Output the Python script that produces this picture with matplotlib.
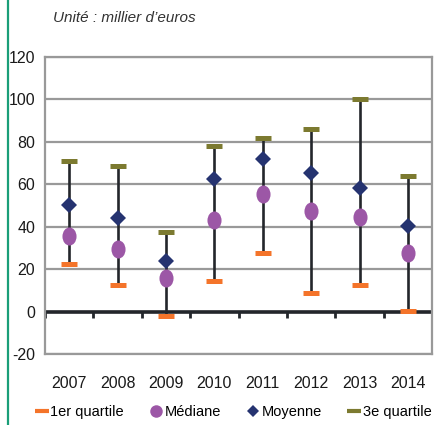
import matplotlib
matplotlib.use("Agg")
import matplotlib.pyplot as plt
import numpy as np
from matplotlib.lines import Line2D
from matplotlib.path import Path

plt.rcParams["font.family"] = ["Liberation Sans", "DejaVu Sans"]
plt.rcParams["axes.unicode_minus"] = False

years = ["2007", "2008", "2009", "2010", "2011", "2012", "2013", "2014"]
q1 = [22.5, 12.7, -2.2, 14.3, 27.7, 8.8, 12.4, 0.3]
median = [35.8, 29.6, 15.9, 43.0, 55.5, 47.2, 44.7, 27.7]
mean = [50.0, 44.0, 23.7, 62.3, 71.7, 65.2, 58.3, 40.4]
q3 = [71.2, 68.5, 37.7, 77.8, 81.6, 86.0, 100.0, 64.0]

COLORS = {
    "q1": "#f4742a",
    "median": "#9c57a6",
    "mean": "#253370",
    "q3": "#7c7a30",
    "whisker": "#23262b",
    "grid": "#999999",
    "text": "#1a1a1a",
    "border": "#1a9e78",
}

# taller-than-wide ellipse for the median marker
circle = Path.unit_circle()
ellipse = Path(circle.vertices * np.array([0.78, 1.0]), circle.codes)

fig = plt.figure(figsize=(4.37, 4.25), dpi=100)
fig.patch.set_facecolor("white")
ax = fig.add_axes([0.103, 0.167, 0.886, 0.699])

x = np.arange(len(years))
ax.set_xlim(-0.5, len(years) - 0.5)
ax.set_ylim(-20, 120)

ax.yaxis.grid(True, color=COLORS["grid"], linewidth=1.6, zorder=0)
ax.set_axisbelow(True)
ax.axhline(0, color=COLORS["whisker"], linewidth=2.6, zorder=2)
ax.vlines(np.arange(len(years) + 1) - 0.5, -2.8, 0, color=COLORS["whisker"],
          linewidth=2.0, zorder=2)

ax.vlines(x, q1, q3, color=COLORS["whisker"], linewidth=1.9, zorder=3)
ax.plot(x, q1, linestyle="none", marker="_", markersize=12,
        markeredgewidth=3.6, color=COLORS["q1"], zorder=4)
ax.plot(x, q3, linestyle="none", marker="_", markersize=12,
        markeredgewidth=3.6, color=COLORS["q3"], zorder=4)
ax.plot(x, median, linestyle="none", marker=ellipse, markersize=13,
        markeredgewidth=0, color=COLORS["median"], zorder=5)
ax.plot(x, mean, linestyle="none", marker="D", markersize=8,
        markeredgewidth=0, color=COLORS["mean"], zorder=6)

ax.set_xticks(x)
ax.set_xticklabels(years)
ax.set_yticks(np.arange(-20, 121, 20))
ax.tick_params(axis="x", length=0, pad=16, labelsize=11.5, colors=COLORS["text"])
ax.tick_params(axis="y", length=0, pad=7, labelsize=11.5, colors=COLORS["text"])
for s in ax.spines.values():
    s.set_color(COLORS["grid"])
    s.set_linewidth(1.6)

fig.text(0.122, 0.958, "Unité : millier d\u2019euros", style="italic",
         fontsize=11, color="#333333", va="center")

handles = [
    Line2D([], [], linestyle="none", marker="_", markersize=10,
           markeredgewidth=3, color=COLORS["q1"]),
    Line2D([], [], linestyle="none", marker="o", markersize=9,
           markeredgewidth=0, color=COLORS["median"]),
    Line2D([], [], linestyle="none", marker="D", markersize=6.5,
           markeredgewidth=0, color=COLORS["mean"]),
    Line2D([], [], linestyle="none", marker="_", markersize=10,
           markeredgewidth=3, color=COLORS["q3"]),
]
labels = ["1er quartile", "Médiane", "Moyenne", "3e quartile"]
fig.legend(handles, labels, loc="center", bbox_to_anchor=(0.535, 0.031),
           ncol=4, frameon=False, fontsize=10.5, handlelength=0.8,
           handletextpad=0.2, columnspacing=1.8, borderaxespad=0)

fig.add_artist(Line2D([0.018, 0.018], [0, 1], transform=fig.transFigure,
                      color=COLORS["border"], linewidth=1.6))

fig.savefig("out.png", dpi=100, facecolor=fig.get_facecolor())
